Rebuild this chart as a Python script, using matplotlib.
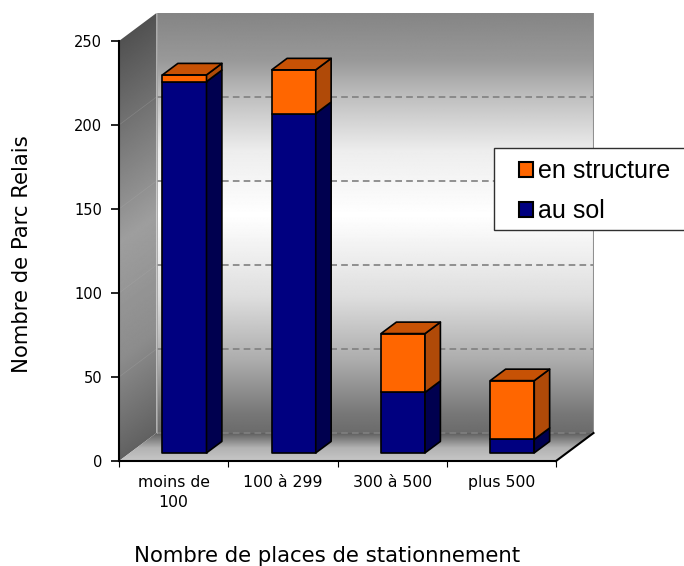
import numpy as np
import matplotlib
matplotlib.use("Agg")
import matplotlib.pyplot as plt
from matplotlib.patches import Patch, Polygon, Rectangle

categories = ["moins de\n100", "100 à 299", "300 à 500", "plus 500"]
au_sol = [221, 202, 36, 8]
en_structure = [4, 26, 35, 35]
yticks = [0, 50, 100, 150, 200, 250]

W, H = 684, 566
# oblique depth, in data units (one category wide, one parc high)
UX, UY = 109.25, 1.68
DX = 37.5 / UX
DY = 28 / UY
XMAX = 4 + DX
YMAX = 250 + DY
BAR_W = 0.403
D0, D1 = 0.29, 0.70


def proj(x, y, d):
    return x + d * DX, y + d * DY


def gradient(values, stops, colors):
    return np.interp(values, stops, colors)


fig = plt.figure(figsize=(W / 100, H / 100), dpi=100)
ax = fig.add_axes([119 / W, 1 - 461 / H, XMAX * UX / W, YMAX * UY / H])
ax.set_xlim(0, XMAX)
ax.set_ylim(0, YMAX)
ax.patch.set_visible(False)

# shaded walls and floor
xx, yy = np.meshgrid(np.linspace(0, XMAX, 480), np.linspace(0, YMAX, 450))
wall_back = gradient(yy - DY, [0, 12, 42, 81, 130, 168, 200, 222, 250],
                     [0.42, 0.47, 0.67, 0.87, 1.0, 0.93, 0.75, 0.60, 0.52])
wall_left = gradient(yy - xx / DX * DY, [0, 60, 130, 250],
                     [0.38, 0.55, 0.62, 0.32])
wall_floor = gradient(yy / DY, [0, 0.45, 1], [0.78, 0.70, 0.36])
extent = [0, XMAX, 0, YMAX]
surfaces = [
    (wall_back, [proj(0, 0, 1), proj(4, 0, 1), proj(4, 250, 1), proj(0, 250, 1)]),
    (wall_left, [proj(0, 0, 0), proj(0, 0, 1), proj(0, 250, 1), proj(0, 250, 0)]),
    (wall_floor, [proj(0, 0, 0), proj(4, 0, 0), proj(4, 0, 1), proj(0, 0, 1)]),
]
for shade, corners in surfaces:
    im = ax.imshow(shade, extent=extent, origin="lower", cmap="gray", vmin=0, vmax=1,
                   aspect="auto", interpolation="bilinear", zorder=1)
    im.set_clip_path(Polygon(corners, transform=ax.transData))
ax.set_xlim(0, XMAX)
ax.set_ylim(0, YMAX)

# gridlines on the back wall, fainter on the side wall
for v in yticks[:-1]:
    x0, y0 = proj(0, v, 1)
    x1, y1 = proj(4, v, 1)
    ax.plot([x0, x1], [y0, y1], color="#808080", lw=1.2, ls=(0, (4, 2.5)), zorder=2)
    if v > 0:
        xa, ya = proj(0, v, 0)
        ax.plot([xa, x0], [ya, y0], color="#b0b0b0", lw=0.5, alpha=0.3, zorder=2)

# wall edges
ax.plot(*zip(proj(4, 0, 1), proj(4, 250, 1)), color="#909090", lw=1.5, zorder=2)
ax.plot(*zip(proj(0, 0, 1), proj(0, 250, 1)), color="#a0a0a0", lw=0.6, zorder=2)
ax.plot(*zip(proj(4, 0, 0), proj(4, 0, 1)), color="black", lw=1.5, zorder=3, clip_on=False)


def draw_box(x, low, high, face, side, top=None):
    left, right = x - BAR_W / 2, x + BAR_W / 2
    style = dict(edgecolor="black", linewidth=1.2, joinstyle="round", zorder=5)
    ax.add_patch(Polygon([proj(left, low, D0), proj(right, low, D0),
                          proj(right, high, D0), proj(left, high, D0)],
                         facecolor=face, **style))
    ax.add_patch(Polygon([proj(right, low, D0), proj(right, low, D1),
                          proj(right, high, D1), proj(right, high, D0)],
                         facecolor=side, **style))
    if top:
        ax.add_patch(Polygon([proj(left, high, D0), proj(right, high, D0),
                              proj(right, high, D1), proj(left, high, D1)],
                             facecolor=top, **style))


for i, (sol, struct) in enumerate(zip(au_sol, en_structure)):
    draw_box(i + 0.5, 0, sol, "#000080", "#00004f")
    draw_box(i + 0.5, sol, sol + struct, "#ff6600", "#b04a08", "#c75205")

# axes
for name in ["top", "right"]:
    ax.spines[name].set_visible(False)
ax.spines["left"].set_bounds(0, 250)
ax.spines["bottom"].set_bounds(0, 4)
ax.spines["left"].set_linewidth(1.5)
ax.spines["bottom"].set_linewidth(1.5)
ax.spines["left"].set_zorder(6)
ax.spines["bottom"].set_zorder(6)
ax.set_yticks(yticks)
ax.tick_params(axis="y", length=6, width=1.2, pad=6, labelsize=10.5)
ax.set_xticks(range(5))
ax.set_xticklabels([])
ax.tick_params(axis="x", which="major", length=4, width=0.8)
ax.set_xticks([i + 0.5 for i in range(4)], minor=True)
labels = ax.set_xticklabels(categories, minor=True, fontsize=11.3)
for lab in labels:
    lab.set_linespacing(1.45)
ax.tick_params(axis="x", which="minor", length=0, pad=10)

fig.text(22 / W, 1 - 254 / H, "Nombre de Parc Relais", rotation=90,
         ha="center", va="center", fontsize=15.3)
fig.text(327 / W, 1 - 556 / H, "Nombre de places de stationnement",
         ha="center", va="center", fontsize=15.3)

# legend box runs to the edge of the figure
fig.add_artist(Rectangle((494 / W, 1 - 230 / H), 192 / W, 82 / H, transform=fig.transFigure,
                         facecolor="white", edgecolor="#303030", lw=1, zorder=8))
handles = [Patch(facecolor="#ff6600", edgecolor="black", lw=1.5, label="en structure"),
           Patch(facecolor="#000080", edgecolor="black", lw=1.5, label="au sol")]
leg = fig.legend(handles=handles, loc="upper left", bbox_to_anchor=(519 / W, 1 - 159 / H),
                 frameon=False, borderpad=0, borderaxespad=0, handlelength=0.56,
                 handleheight=0.56, handletextpad=0.2, labelspacing=0.65,
                 prop={"family": "Liberation Sans", "size": 18})
leg.set_zorder(9)

fig.savefig("out.png", dpi=100)
